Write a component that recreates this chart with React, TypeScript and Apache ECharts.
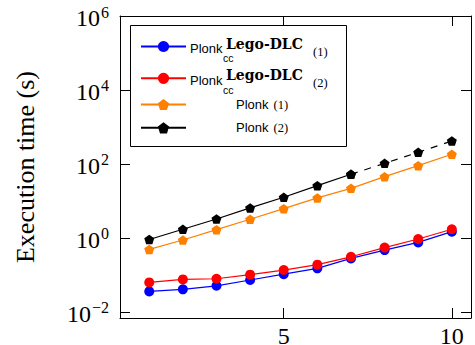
import React, { useEffect, useRef } from "react";
import * as echarts from "echarts";

// ---- data ----
const xValues = [1, 2, 3, 4, 5, 6, 7, 8, 9, 10];
const legoDlc1 = [0.036, 0.041, 0.051, 0.073, 0.105, 0.151, 0.28, 0.47, 0.76, 1.48];
const legoDlc2 = [0.063, 0.076, 0.079, 0.102, 0.136, 0.19, 0.31, 0.55, 0.94, 1.72];
const plonk1 = [0.49, 0.88, 1.68, 3.2, 6.2, 12.1, 22, 45.5, 90, 183];
const plonk2 = [0.91, 1.72, 3.26, 6.5, 12.6, 25.9, 52.7, 104, 207, 419];
const plonk2MeasuredCount = 7; // solid up to x = 7, dashed afterwards
const xTicks = [5, 10];
const yTicks = [1e-2, 1, 1e2, 1e4, 1e6];
const seriesNames = [
  "Plonk_cc^Lego-DLC (1)",
  "Plonk_cc^Lego-DLC (2)",
  "Plonk (1)",
  "Plonk (2)",
];
const legoIndexLabels = ["(1)", "(2)"];
const extrapolatedName = "Plonk (2) extrapolated";
const yTitle = "Execution time (s)";

const PENTAGON =
  "path://M0,-1 L0.951,-0.309 L0.588,0.809 L-0.588,0.809 L-0.951,-0.309 Z";

const pairs = (ys: number[], from = 0, to = ys.length) =>
  ys.slice(from, to).map((y, i) => [xValues[from + i], y]);

const SERIF = "Liberation Serif";
const SANS = "Liberation Sans";

export default function App() {
  const ref = useRef<HTMLDivElement>(null);

  useEffect(() => {
    if (!ref.current) return;
    const chart = echarts.init(ref.current, undefined, { renderer: "svg" });

    const legendRich: any = {
      q: {
        fontFamily: SANS,
        fontSize: 13,
        lineHeight: 14,
        padding: [0, 0, 0, 45],
        color: "#000",
      },
      m: {
        fontFamily: SERIF,
        fontSize: 12.5,
        lineHeight: 14,
        padding: [0, 0, 0, 5],
        color: "#000",
      },
    };

    const legendFormatter = (name: string) => {
      if (name === seriesNames[2]) return "{q|Plonk}{m|(1)}";
      if (name === seriesNames[3]) return "{q|Plonk}{m|(2)}";
      return "";
    };

    const rowCenters = [46.5, 78.3, 105, 128.3];
    const legends = seriesNames.map((nm, i) => ({
      data: [nm],
      orient: "vertical",
      left: 140,
      top: rowCenters[i] - 7,
      padding: 0,
      itemWidth: 45,
      itemHeight: 14,
      selectedMode: false,
      formatter: legendFormatter,
      textStyle: { rich: legendRich },
    }));

    // legend labels of the two Lego-DLC rows (sub/superscript layout)
    const legoLabelGraphics = legoIndexLabels.map((lbl, i) => {
      const c = rowCenters[i];
      return {
        type: "group",
        z: 6,
        children: [
          {
            type: "text",
            x: 190,
            y: c + 1.8,
            z: 6,
            style: {
              text: "Plonk",
              fontFamily: SANS,
              fontSize: 13,
              fill: "#000",
              align: "left",
              verticalAlign: "middle",
            },
          },
          {
            type: "text",
            x: 223,
            y: c + 11.5,
            z: 6,
            style: {
              text: "cc",
              fontFamily: SANS,
              fontSize: 10.5,
              fill: "#000",
              align: "left",
              verticalAlign: "middle",
            },
          },
          {
            type: "text",
            x: 226,
            y: c - 3,
            z: 6,
            style: {
              text: "Lego-DLC",
              fontFamily: "DejaVu Serif",
              fontWeight: "bold",
              fontSize: 14,
              fill: "#000",
              align: "left",
              verticalAlign: "middle",
            },
          },
          {
            type: "text",
            x: 313,
            y: c + 5,
            z: 6,
            style: {
              text: lbl,
              fontFamily: SERIF,
              fontSize: 12.5,
              fill: "#000",
              align: "left",
              verticalAlign: "middle",
            },
          },
        ],
      };
    });

    const yLabelFormatter = (v: number) => {
      const e = Math.round(Math.log10(v));
      const s = e < 0 ? "\u2212" + -e : String(e);
      return `{b|10}{e|${s}}`;
    };

    const axisLineStyle = { color: "#000", width: 1 };

    const xBase = {
      type: "value",
      min: 0.13,
      max: 10.57,
      splitLine: { show: false },
      axisLine: { show: true, onZero: false, lineStyle: axisLineStyle },
      axisTick: {
        show: true,
        inside: true,
        length: 10,
        customValues: xTicks,
        lineStyle: axisLineStyle,
      },
    };
    const yBase = {
      type: "log",
      logBase: 10,
      min: 0.006871,
      max: 1e6,
      splitLine: { show: false },
      axisLine: { show: true, onZero: false, lineStyle: axisLineStyle },
      axisTick: {
        show: true,
        inside: true,
        length: 10,
        customValues: yTicks,
        lineStyle: axisLineStyle,
      },
    };

    const lineSeries = (
      name: string,
      data: number[][],
      color: string,
      symbol: string,
      dashed = false
    ) => ({
      name,
      type: "line",
      data,
      symbol,
      symbolSize: 10,
      symbolKeepAspect: true,
      showAllSymbol: true,
      color,
      lineStyle: { color, width: 1.2, type: dashed ? [7, 7] : "solid" },
      itemStyle: { color, borderWidth: 0 },
      emphasis: { disabled: true },
    });

    chart.setOption({
      animation: false,
      backgroundColor: "#fff",
      grid: {
        left: 120,
        right: 4,
        top: 16,
        bottom: 27,
        containLabel: false,
        outerBoundsMode: "none",
      },
      legend: legends,
      graphic: [
        {
          type: "rect",
          z: 3,
          shape: { x: 130.5, y: 25.5, width: 216, height: 121 },
          style: { fill: "#fff", stroke: "#000", lineWidth: 1 },
        },
        ...legoLabelGraphics,
      ],
      xAxis: [
        {
          ...xBase,
          position: "bottom",
          axisLabel: {
            customValues: xTicks,
            fontFamily: SERIF,
            fontSize: 24,
            color: "#000",
            margin: 6,
          },
        },
        {
          ...xBase,
          position: "top",
          axisLabel: { show: false },
        },
      ],
      yAxis: [
        {
          ...yBase,
          position: "left",
          name: yTitle,
          nameLocation: "middle",
          nameRotate: 90,
          nameGap: 82,
          nameTextStyle: { fontFamily: SERIF, fontSize: 26, color: "#000" },
          axisLabel: {
            customValues: yTicks,
            margin: 11,
            formatter: yLabelFormatter,
            rich: {
              b: {
                fontFamily: SERIF,
                fontSize: 24,
                color: "#000",
                padding: [4, 0, 0, 0],
              },
              e: {
                fontFamily: SERIF,
                fontSize: 16,
                color: "#000",
                padding: [0, 0, 8, 1],
              },
            },
          },
        },
        {
          ...yBase,
          position: "right",
          axisLabel: { show: false },
        },
      ],
      series: [
        lineSeries(seriesNames[0], pairs(legoDlc1), "#0000ff", "circle"),
        lineSeries(seriesNames[1], pairs(legoDlc2), "#ff0000", "circle"),
        lineSeries(seriesNames[2], pairs(plonk1), "#ff8000", PENTAGON),
        lineSeries(
          seriesNames[3],
          pairs(plonk2, 0, plonk2MeasuredCount),
          "#000000",
          PENTAGON
        ),
        lineSeries(
          extrapolatedName,
          pairs(plonk2, plonk2MeasuredCount - 1),
          "#000000",
          PENTAGON,
          true
        ),
      ],
    });

    return () => chart.dispose();
  }, []);

  return (
    <div
      ref={ref}
      style={{ position: "fixed", left: 0, top: 0, width: 475, height: 345 }}
    />
  );
}
